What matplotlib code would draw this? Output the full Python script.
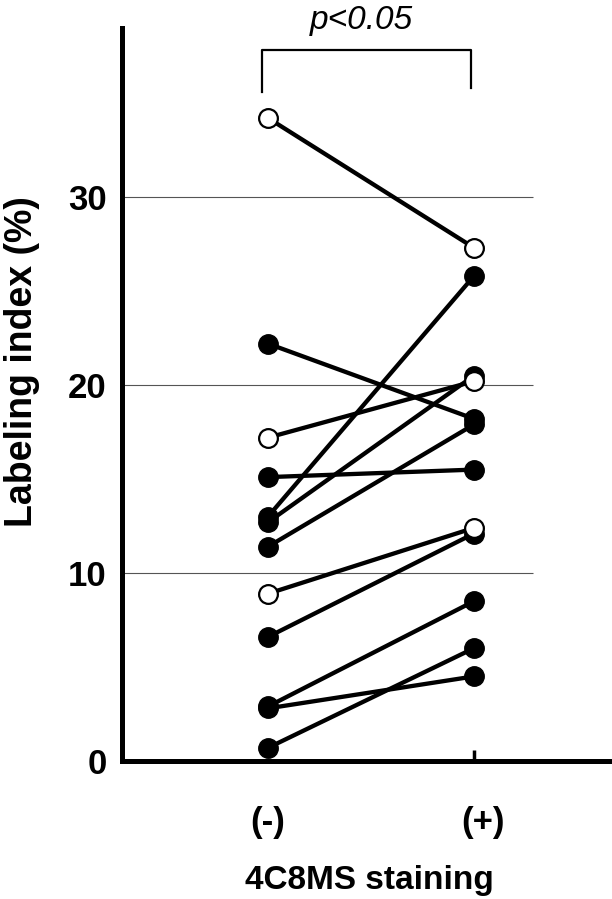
import matplotlib
matplotlib.use("Agg")
import matplotlib.pyplot as plt
from matplotlib.lines import Line2D
from matplotlib.transforms import ScaledTranslation

# Data
groups = ["(-)", "(+)"]
neg_values = [34.2, 22.2, 17.2, 15.1, 13.0, 12.7, 11.4, 8.9, 6.6, 2.9, 2.8, 0.7]
pos_values = [27.3, 18.2, 20.2, 15.5, 25.8, 20.5, 17.9, 12.4, 12.1, 8.5, 4.5, 6.0]
is_open = [True, False, True, False, False, False, False, True, False, False, False, False]
yticks = [0, 10, 20, 30]
ylabel = "Labeling index (%)"
xlabel = "4C8MS staining"
ptext = "p<0.05"

plt.rcParams['font.family'] = ['Liberation Sans', 'DejaVu Sans']

W, H = 612, 899
fig = plt.figure(figsize=(W / 100, H / 100), dpi=100)
ax_left, ax_right, ax_bottom, ax_top = 122, 612, 761, 28
ax = fig.add_axes([ax_left / W, (H - ax_bottom) / H,
                   (ax_right - ax_left) / W, (ax_bottom - ax_top) / H])

x0_px, x1_px = 268, 474
scale = x1_px - x0_px
ax.set_xlim(-(x0_px - ax_left) / scale, 1 + (ax_right - x1_px) / scale)
ax.set_ylim(0, (ax_bottom - ax_top) / 18.8)

# grid lines
grid_end = 1 + (533 - x1_px) / scale
for yv in yticks[1:]:
    ax.hlines(yv, ax.get_xlim()[0], grid_end, color='#555555', lw=0.8, zorder=1)

# lines
for a, b in zip(neg_values, pos_values):
    ax.plot([0, 1], [a, b], color='black', lw=3.1, zorder=2,
            solid_capstyle='round', clip_on=False)

# filled markers, then open on top
for a, b, o in zip(neg_values, pos_values, is_open):
    if not o:
        ax.plot([0, 1], [a, b], ls='none', marker='o', ms=14, mfc='black',
                mec='black', mew=1.0, zorder=3, clip_on=False)
for a, b, o in zip(neg_values, pos_values, is_open):
    if o:
        ax.plot([0, 1], [a, b], ls='none', marker='o', ms=13.5, mfc='white',
                mec='black', mew=1.6, zorder=4, clip_on=False)

# spines
for s in ['top', 'right']:
    ax.spines[s].set_visible(False)
ax.spines['left'].set_linewidth(3.6)
ax.spines['bottom'].set_linewidth(3.6)
ax.spines['left'].set_capstyle('projecting')

ax.set_yticks(yticks)
ax.set_yticklabels([str(v) for v in yticks], fontsize=25, fontweight='bold')
for lab in ax.get_yticklabels():
    lab.set_transform(lab.get_transform() +
                      ScaledTranslation(0, -3 / 72, fig.dpi_scale_trans))
ax.tick_params(axis='y', length=0, pad=11)
ax.set_xticks([1])
ax.set_xticklabels([''])
ax.tick_params(axis='x', direction='in', length=8, width=2.5)

# group labels
for xi, g, off in zip([0, 1], groups, [0, 9]):
    ax.annotate(g, xy=(xi, 0), xycoords='data', xytext=(off * 0.72, -44),
                textcoords='offset points', ha='center', va='center',
                fontsize=25, fontweight='bold', annotation_clip=False)

fig.text(369 / W, 1 - 880 / H, xlabel, ha='center', va='center',
         fontsize=24, fontweight='bold')
fig.text(22 / W, 1 - 362 / H, ylabel, ha='center', va='center',
         rotation=90, fontsize=27, fontweight='bold')

# significance bracket
bx = [262 / W, 262 / W, 471 / W, 471 / W]
by = [1 - 92 / H, 1 - 50 / H, 1 - 50 / H, 1 - 88 / H]
fig.add_artist(Line2D(bx, by, color='black', lw=1.6))
fig.text(361 / W, 1 - 20 / H, ptext, ha='center', va='center',
         fontsize=24, style='italic')

fig.savefig("out.png", dpi=100)
